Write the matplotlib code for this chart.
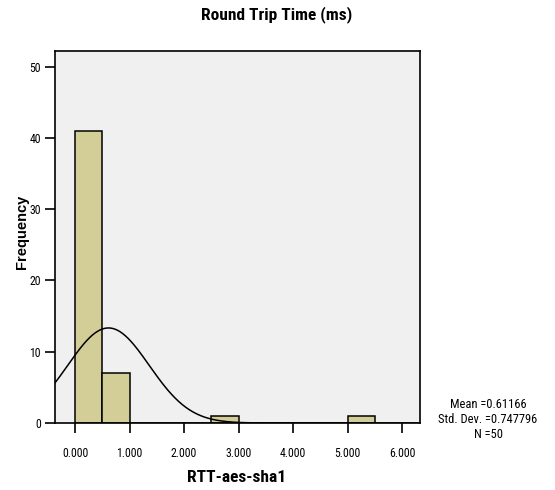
import numpy as np
import matplotlib
matplotlib.use("Agg")
import matplotlib.pyplot as plt

# Histogram bins (ms) and counts
bin_edges = [0.0, 0.5, 1.0, 1.5, 2.0, 2.5, 3.0, 3.5, 4.0, 4.5, 5.0, 5.5]
counts = [41, 7, 0, 0, 0, 1, 0, 0, 0, 0, 1]
mean_val = 0.61166
std_val = 0.747796
n_val = 50
x_ticks = [0, 1, 2, 3, 4, 5, 6]
y_ticks = [0, 10, 20, 30, 40, 50]

narrow = ["Roboto Condensed", "DejaVu Sans"]
wide = ["Liberation Sans", "DejaVu Sans"]

W, H = 555, 490
fig = plt.figure(figsize=(W / 100, H / 100), dpi=100)
L, R, T, B = 55, 420, 51, 423
ax = fig.add_axes([L / W, 1 - B / H, (R - L) / W, (B - T) / H])
ax.set_facecolor("#f0f0f0")

widths = np.diff(bin_edges)
ax.bar(bin_edges[:-1], counts, width=widths, align="edge",
       color="#d3ce97", edgecolor="black", linewidth=1.1, zorder=2)

# Fitted normal curve scaled to counts
bw = widths[0]
xlo, xhi = -0.37, 6.33
xs = np.linspace(xlo, xhi, 400)
ys = n_val * bw * np.exp(-0.5 * ((xs - mean_val) / std_val) ** 2) / (std_val * np.sqrt(2 * np.pi))
ax.plot(xs, ys, color="black", linewidth=1.1, zorder=3)

ax.set_xlim(xlo, xhi)
ax.set_ylim(0, 52.2)
ax.set_xticks(x_ticks)
ax.set_xticklabels([f"{v:.3f}" for v in x_ticks], fontfamily=narrow, fontsize=8.5)
ax.set_yticks(y_ticks)
ax.set_yticklabels([str(v) for v in y_ticks], fontfamily=narrow, fontsize=8.5)
ax.tick_params(axis="both", direction="out", length=7, width=1.2, color="black", pad=3)
ax.tick_params(axis="x", pad=10)
for s in ax.spines.values():
    s.set_linewidth(1.2)
    s.set_color("black")

fig.text(237 / W, 1 - 477 / H, "RTT-aes-sha1", ha="center", va="center",
         fontfamily=narrow, fontweight="bold", fontsize=12.5)
fig.text(22 / W, 1 - 232 / H, "Frequency", rotation=90, ha="center", va="center",
         fontfamily=wide, fontweight="bold", fontsize=10.5)
fig.text(277 / W, 1 - 15 / H, "Round Trip Time (ms)", ha="center", va="center",
         fontfamily=narrow, fontweight="bold", fontsize=12.5)

fig.text(488 / W, 1 - 419 / H,
         f"Mean ={mean_val}\nStd. Dev. ={std_val}\nN ={n_val}",
         ha="center", va="center", fontfamily=narrow, fontsize=9, linespacing=1.2)

fig.savefig("out.png", dpi=100)
